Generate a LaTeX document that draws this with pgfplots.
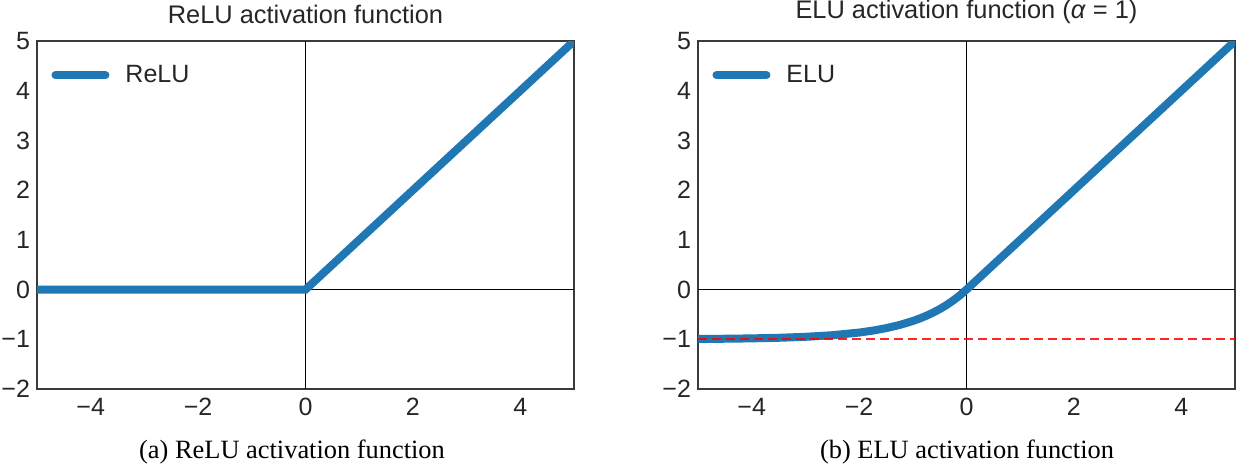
\documentclass[border=0pt]{standalone}
\usepackage{fontspec}
\setmainfont{Liberation Serif}
\setsansfont{Liberation Sans}
\usepackage{pgfplots}
\pgfplotsset{compat=1.18}
\definecolor{mplblue}{HTML}{1F77B4}
\definecolor{tickgray}{HTML}{262626}
\definecolor{framegray}{HTML}{3A3A3A}
\pgfplotsset{
  actstyle/.style={
    scale only axis,
    width=268.5pt, height=174pt,
    xmin=-5, xmax=5, ymin=-2, ymax=5,
    xtick={-4,-2,0,2,4}, ytick={-2,-1,0,1,2,3,4,5},
    xticklabels={−4,−2,0,2,4},
    yticklabels={−2,−1,0,1,2,3,4,5},
    tick style={draw=none},
    axis line style={framegray, line width=0.8pt},
    tick label style={font=\sffamily\fontsize{12.5}{14}\selectfont, text=tickgray},
    xticklabel style={yshift=-1pt},
    title style={font=\sffamily\fontsize{12.7}{14}\selectfont, text=tickgray, yshift=-1pt},
    legend style={draw=none, fill=none, at={(0.015,0.955)}, anchor=north west,
      font=\sffamily\fontsize{12.5}{14}\selectfont, text=tickgray},
    legend cell align=left,
    legend image code/.code={
      \draw[#1, line cap=round] (0pt,0pt) -- (25pt,0pt);
      \path (31pt,0pt);},
    clip mode=individual,
  },
}
\begin{document}
\begin{tikzpicture}
\useasboundingbox (0,0) rectangle (620pt,233.5pt);
\begin{axis}[actstyle, at={(18.5pt,39pt)}, anchor=south west,
  title={ReLU activation function}]
  \addplot[black, line width=0.5pt, forget plot] coordinates {(-5,0) (5,0)};
  \addplot[black, line width=0.5pt, forget plot] coordinates {(0,-2) (0,5)};
  \addplot[mplblue, line width=4pt] coordinates {(-5,0) (0,0) (5,5)};
  \addlegendentry{ReLU}
\end{axis}
\begin{axis}[actstyle, at={(349pt,39pt)}, anchor=south west,
  title={ELU activation function (\textit{α} = 1)}]
  \addplot[black, line width=0.5pt, forget plot] coordinates {(-5,0) (5,0)};
  \addplot[black, line width=0.5pt, forget plot] coordinates {(0,-2) (0,5)};
  \addplot[mplblue, line width=4pt, line join=round] coordinates {
    (-5,-0.9933) (-4.5,-0.9889) (-4,-0.9817) (-3.5,-0.9698) (-3,-0.9502)
    (-2.5,-0.9179) (-2,-0.8647) (-1.75,-0.8262) (-1.5,-0.7769) (-1.25,-0.7135)
    (-1,-0.6321) (-0.875,-0.5831) (-0.75,-0.5276) (-0.625,-0.4647)
    (-0.5,-0.3935) (-0.375,-0.3127) (-0.25,-0.2212) (-0.125,-0.1175)
    (0,0) (5,5)
  };
  \addlegendentry{ELU}
  \addplot[red, opacity=0.85, line width=1.1pt, dash pattern=on 4.5pt off 2.5pt, forget plot]
    coordinates {(-5,-1) (5,-1)};
\end{axis}
\node[font=\fontsize{13.2}{15}\selectfont] at (146pt,7.5pt) {(a) ReLU activation function};
\node[font=\fontsize{13.2}{15}\selectfont] at (483.5pt,7.5pt) {(b) ELU activation function};
\end{tikzpicture}
\end{document}
